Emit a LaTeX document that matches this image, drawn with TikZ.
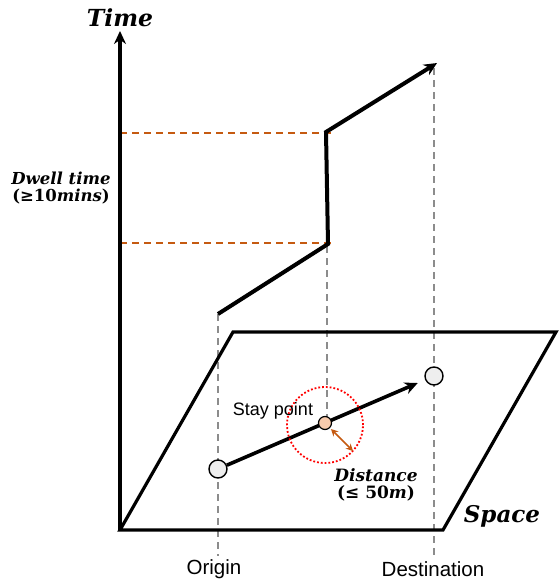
\documentclass[tikz,border=0pt]{standalone}
\usepackage{fontspec}
\setmainfont{Liberation Sans}
\newfontfamily\lblfont{DejaVu Serif}
\usetikzlibrary{arrows.meta,calc}
\definecolor{dwellorange}{HTML}{C55A11}
\definecolor{guidegray}{HTML}{8C8C8C}
\definecolor{stayfill}{HTML}{F8CBAD}
\definecolor{ptfill}{HTML}{EEEEEE}
\begin{document}
\begin{tikzpicture}[x=1pt,y=-1pt,
  axisline/.style={line width=4pt},
  planeline/.style={line width=3.2pt, line join=miter},
  trajline/.style={line width=4pt, line join=miter},
  guide/.style={draw=guidegray, line width=2pt, dash pattern=on 7pt off 5pt},
  dwellline/.style={draw=dwellorange, line width=2.2pt, dash pattern=on 7pt off 5pt},
  endpt/.style={circle, draw=black, line width=1.4pt, fill=ptfill, minimum size=18pt, inner sep=0pt},
  staypt/.style={circle, draw=black, line width=1.2pt, fill=stayfill, minimum size=13pt, inner sep=0pt},
  mlabel/.style={font=\lblfont\bfseries\itshape, inner sep=0pt},
  slabel/.style={font=\fontsize{20.5}{24}\selectfont, inner sep=0pt}
]
\useasboundingbox (0,0) rectangle (558,584);

% guides (gray dashed)
\coordinate (g1t) at (218,314);
\coordinate (g1b) at (218,556);
\coordinate (g2t) at (327,246);
\coordinate (g2b) at (327,417);
\coordinate (g3t) at (434,68);
\coordinate (g3b) at (434,558);
\draw[guide] (g1t) -- (g1b);
\draw[guide] (g2t) -- (g2b);
\draw[guide] (g3t) -- (g3b);

% dwell time lines
\coordinate (d1a) at (120,133);
\coordinate (d1b) at (334,133);
\coordinate (d2a) at (120,243);
\coordinate (d2b) at (334,243);
\draw[dwellline] (d1a) -- (d1b);
\draw[dwellline] (d2a) -- (d2b);

% time axis
\coordinate (O) at (120,530);
\coordinate (Ttop) at (120,31);
\draw[axisline,-{Stealth[length=13pt,width=12pt]}] (O) -- (Ttop);

% space plane
\coordinate (P1) at (443,530);
\coordinate (P2) at (556,332);
\coordinate (P3) at (233,332);
\draw[planeline] (O) -- (P1) -- (P2) -- (P3) -- cycle;

% trajectory in time
\coordinate (t1) at (218,314);
\coordinate (t2) at (328,244);
\coordinate (t3) at (326,132);
\coordinate (t4) at (437,63);
\draw[trajline,-{Stealth[length=13pt,width=12pt]}] (t1) -- (t2) -- (t3) -- (t4);

% points in space
\node[endpt] (po) at (218,469) {};
\node[endpt] (pd) at (434,376) {};
\draw[line width=3.6pt,-{Stealth[length=13pt,width=12pt]}, shorten >=8pt] (po) -- (pd);
\node[staypt] (ps) at (325,423) {};

% stay radius
\draw[red, line width=1.8pt, dotted] (325,425) circle (38pt);
\coordinate (r1) at ($(ps)+(6,6)$);
\coordinate (r2) at ($(ps)+(28,28)$);
\draw[dwellorange, line width=1.6pt, {Stealth[length=7pt,width=7pt]}-{Stealth[length=7pt,width=7pt]}] (r1) -- (r2);

% labels
\node[mlabel, font=\lblfont\bfseries\itshape\fontsize{23.5}{28}\selectfont] (ltime) at (120,18) {Time};
\node[mlabel, font=\lblfont\bfseries\fontsize{16.5}{17}\selectfont, align=center] (ldwell) at (61,188) {\itshape Dwell time\\(≥10\itshape mins\upshape)};
\node[mlabel, font=\lblfont\bfseries\fontsize{17}{17}\selectfont, align=center] (ldist) at (376,485) {\itshape Distance\\(≤ 50\itshape m\upshape)};
\node[mlabel, font=\lblfont\bfseries\itshape\fontsize{23}{28}\selectfont] (lspace) at (502,516) {Space};
\node[slabel, font=\fontsize{18}{20}\selectfont] (lstay) at (273,411) {Stay point};
\node[slabel] (lorig) at (214,569) {Origin};
\node[slabel] (ldest) at (433,569) {Destination};
\end{tikzpicture}
\end{document}
